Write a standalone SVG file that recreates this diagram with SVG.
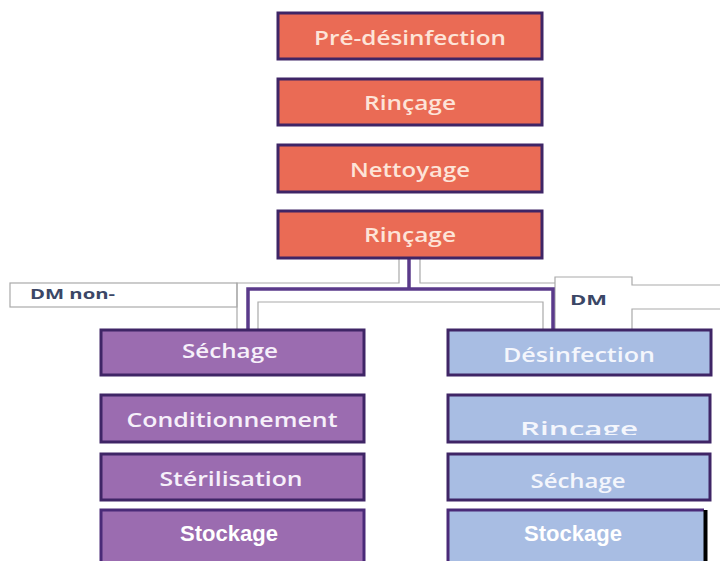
<svg xmlns="http://www.w3.org/2000/svg" width="720" height="561" viewBox="0 0 720 561">
<defs>
<style>
.box{stroke:#3f2566;stroke-width:3}
.org{fill:#ea6b55}
.pur{fill:#9b6cb0}
.blu{fill:#a8bde3}
.t{font-family:"Open Sans","Liberation Sans",sans-serif;font-weight:600;font-size:20px;text-anchor:middle}
.to{fill:#fde4d8}
.tw{fill:#f6f0fa}
.tb{fill:#f4f6fc}
.st{font-family:"Liberation Sans",Arial,sans-serif;font-weight:bold;font-size:22px;fill:#ffffff;text-anchor:middle}
.g{fill:none;stroke:#aaaaaa;stroke-width:1.2}
.p{fill:none;stroke:#5a3a8a;stroke-width:3.5}
.lbl{font-family:"Open Sans","Liberation Sans",sans-serif;font-weight:700;font-size:15px;fill:#3b4766}
</style>
<clipPath id="clipR"><rect x="447" y="394" width="263" height="41"/></clipPath>
</defs>
<rect width="720" height="561" fill="#ffffff"/>

<g id="connectors">
<rect x="10" y="283" width="227" height="24" fill="#ffffff" stroke="#aaaaaa" stroke-width="1.2"/>
<path class="g" d="M399,258 V283 H237 V330"/>
<path class="g" d="M420,258 V283 H555"/>
<path class="g" d="M258,330 V302 H543 V330"/>
<path d="M555,330 V277 H632 V285 H720 M720,309 H632 V330" fill="none" stroke="#aaaaaa" stroke-width="1.2"/>
<path class="p" d="M409,258 V289"/>
<path class="p" d="M248,330 V289 H553 V330"/>
</g>

<g id="label-dm-non">
<text class="lbl" x="30" y="299" textLength="85" lengthAdjust="spacingAndGlyphs">DM non-</text>
</g>
<g id="label-dm">
<text class="lbl" x="570" y="305" textLength="37" lengthAdjust="spacingAndGlyphs">DM</text>
</g>

<g id="n-predesinfection">
<rect class="box org" x="278" y="13" width="264" height="46"/>
<text class="t to" x="410" y="45" textLength="192" lengthAdjust="spacingAndGlyphs">Pré-désinfection</text>
</g>
<g id="n-rincage1">
<rect class="box org" x="278" y="79" width="264" height="46"/>
<text class="t to" x="410" y="110" textLength="92" lengthAdjust="spacingAndGlyphs">Rinçage</text>
</g>
<g id="n-nettoyage">
<rect class="box org" x="278" y="145" width="264" height="47"/>
<text class="t to" x="410" y="177" textLength="120" lengthAdjust="spacingAndGlyphs">Nettoyage</text>
</g>
<g id="n-rincage2">
<rect class="box org" x="278" y="211" width="264" height="47"/>
<text class="t to" x="410" y="242" textLength="92" lengthAdjust="spacingAndGlyphs">Rinçage</text>
</g>

<g id="n-sechage-l">
<rect class="box pur" x="101" y="330" width="263" height="45"/>
<text class="t tw" x="230" y="358" textLength="96" lengthAdjust="spacingAndGlyphs">Séchage</text>
</g>
<g id="n-conditionnement">
<rect class="box pur" x="101" y="395" width="263" height="47"/>
<text class="t tw" x="232" y="427" textLength="211" lengthAdjust="spacingAndGlyphs">Conditionnement</text>
</g>
<g id="n-sterilisation">
<rect class="box pur" x="101" y="454" width="263" height="46"/>
<text class="t tw" x="231" y="486" textLength="143" lengthAdjust="spacingAndGlyphs">Stérilisation</text>
</g>
<g id="n-stockage-l">
<rect class="pur" x="101" y="510" width="263" height="52"/>
<path d="M101,562 V510 H364 V562" fill="none" stroke="#4a2a78" stroke-width="3"/>
<text class="st" x="229" y="541">Stockage</text>
</g>

<g id="n-desinfection">
<rect class="box blu" x="448" y="330" width="263" height="45"/>
<text class="t tb" x="579" y="362" textLength="152" lengthAdjust="spacingAndGlyphs">Désinfection</text>
</g>
<g id="n-rincage-r">
<rect class="box blu" x="448" y="395" width="262" height="47"/>
<text class="t tb" x="579" y="436" font-size="27" textLength="118" lengthAdjust="spacingAndGlyphs" clip-path="url(#clipR)">Rincage</text>
</g>
<g id="n-sechage-r">
<rect class="box blu" x="448" y="454" width="262" height="46"/>
<text class="t tb" x="578" y="488" textLength="95" lengthAdjust="spacingAndGlyphs">Séchage</text>
</g>
<g id="n-stockage-r">
<rect class="blu" x="448" y="510" width="258" height="52"/>
<path d="M448,562 V510 H704" fill="none" stroke="#4a2a78" stroke-width="3"/>
<path d="M705.5,510 V562" fill="none" stroke="#000000" stroke-width="4"/>
<text class="st" x="573" y="541">Stockage</text>
</g>
</svg>
